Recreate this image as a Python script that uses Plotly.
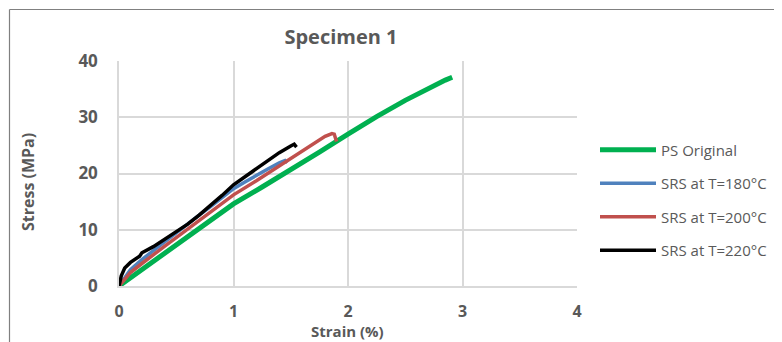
import plotly.graph_objects as go

# Data (strain %, stress MPa)
ps_strain = [0, 0.25, 0.5, 0.75, 1.0, 1.25, 1.5, 1.75, 2.0, 2.13, 2.25, 2.5, 2.75, 2.85, 2.91]
ps_stress = [0, 3.7, 7.4, 11.0, 14.6, 17.6, 20.6, 23.8, 27.0, 28.7, 30.1, 33.0, 35.7, 36.6, 37.1]

s180_strain = [0, 0.05, 0.1, 0.2, 0.3, 0.4, 0.5, 0.6, 0.7, 0.8, 0.9, 1.0, 1.1, 1.2, 1.3, 1.4, 1.45, 1.47]
s180_stress = [0, 1.5, 2.9, 4.7, 6.3, 7.9, 9.4, 11.0, 12.6, 14.1, 15.7, 17.3, 18.5, 19.7, 20.8, 21.9, 22.3, 21.9]

s200_strain = [0, 0.05, 0.1, 0.2, 0.3, 0.4, 0.5, 0.6, 0.7, 0.8, 0.9, 1.0, 1.2, 1.4, 1.5, 1.6, 1.7, 1.8, 1.86, 1.88, 1.9]
s200_stress = [0, 1.3, 2.4, 4.0, 5.6, 7.1, 8.6, 10.1, 11.6, 13.1, 14.7, 16.2, 18.7, 21.3, 22.7, 24.0, 25.3, 26.6, 27.1, 27.0, 25.7]

s220_strain = [0, 0.02, 0.05, 0.1, 0.18, 0.2, 0.3, 0.4, 0.5, 0.6, 0.7, 0.8, 0.9, 1.0, 1.1, 1.2, 1.3, 1.4, 1.5, 1.53, 1.55]
s220_stress = [0, 1.8, 3.2, 4.2, 5.3, 5.9, 7.0, 8.3, 9.6, 11.0, 12.6, 14.3, 16.1, 18.0, 19.4, 20.9, 22.3, 23.7, 24.9, 25.2, 24.7]

names = ["PS Original", "SRS at T=180°C", "SRS at T=200°C", "SRS at T=220°C"]
colors = ["#00b050", "#4f81bd", "#c0504d", "#000000"]
widths = [5, 3.5, 3.5, 3.5]

x_ticks = [0, 1, 2, 3, 4]
y_ticks = [0, 10, 20, 30, 40]

fig = go.Figure()
series = [(ps_strain, ps_stress), (s180_strain, s180_stress),
          (s200_strain, s200_stress), (s220_strain, s220_stress)]
for i, (xs, ys) in enumerate(series):
    fig.add_trace(go.Scatter(
        x=xs, y=ys, mode="lines", name=names[i], legendgroup=f"g{i}",
        line=dict(color=colors[i], width=widths[i]),
    ))

grey = "#595959"
OFF = 8  # page body margin offset
W, H = 782 - OFF, 342 - OFF
L, R, T, B = 119 - OFF, 577 - OFF, 61 - OFF, 286 - OFF
pw, ph = R - L, B - T


def px(sx):
    return (sx - OFF - L) / pw


def py(sy):
    return (B - (sy - OFF)) / ph


fig.update_layout(
    width=W, height=H,
    margin=dict(l=L, r=W - R, t=T, b=H - B, autoexpand=False),
    paper_bgcolor="white", plot_bgcolor="white",
    font=dict(family="Open Sans, sans-serif", color=grey),
    title=dict(text="<b>Specimen 1</b>", x=(341 - OFF) / W, xref="container",
               xanchor="center", y=1 - (29 - OFF + 8) / H, yanchor="middle",
               font=dict(size=20, color=grey)),
    showlegend=True,
    legend=dict(x=px(595), xanchor="left", y=py(200), yanchor="middle",
                font=dict(size=15, color=grey), tracegroupgap=11, itemwidth=56,
                bgcolor="rgba(0,0,0,0)"),
    xaxis=dict(range=[0, 4], tickvals=x_ticks, showgrid=True, gridcolor="#d9d9d9", gridwidth=1.5,
               showline=True, linecolor="#d9d9d9", linewidth=1.5, zeroline=False,
               ticks="", ticklabelstandoff=10, automargin=False,
               tickfont=dict(size=16, color=grey, family="Open Sans, sans-serif", weight="bold")),
    yaxis=dict(range=[0, 40], tickvals=y_ticks, showgrid=True, gridcolor="#d9d9d9", gridwidth=1.5,
               showline=True, linecolor="#d9d9d9", linewidth=1.5, zeroline=False,
               ticks="", ticklabelstandoff=16, automargin=False,
               tickfont=dict(size=17, color=grey, family="Open Sans, sans-serif", weight="bold")),
    annotations=[
        dict(text="<b>Strain (%)</b>", xref="paper", yref="paper",
             x=px(347), y=py(331), xanchor="center", yanchor="middle",
             showarrow=False, font=dict(size=15, color=grey)),
        dict(text="<b>Stress (MPa)</b>", xref="paper", yref="paper",
             x=px(28), y=py(182), xanchor="center", yanchor="middle",
             textangle=-90, showarrow=False, font=dict(size=16, color=grey)),
    ],
)

# chart frame lines (left and top)
fig.add_shape(type="line", xref="paper", yref="paper",
              x0=px(9.5), x1=px(9.5), y0=py(9.5), y1=py(350),
              line=dict(color="#808080", width=1.2))
fig.add_shape(type="line", xref="paper", yref="paper",
              x0=px(9.5), x1=px(790), y0=py(9.5), y1=py(9.5),
              line=dict(color="#808080", width=1.2))

fig.write_html("out.html")
